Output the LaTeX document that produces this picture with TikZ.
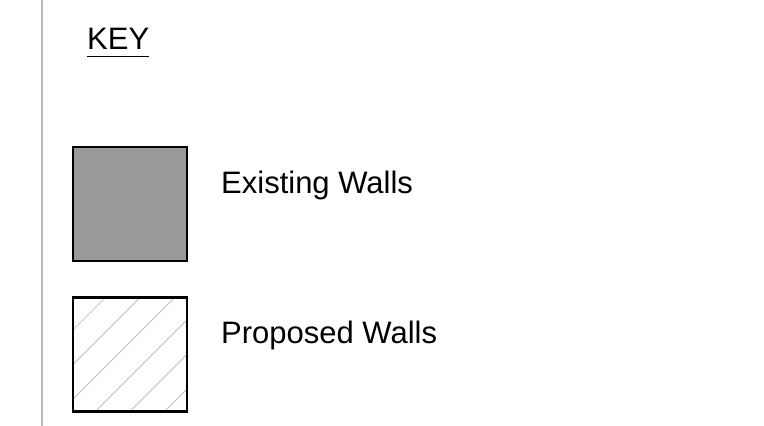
\documentclass[tikz,border=0pt]{standalone}
\usepackage{fontspec}
\setmainfont{Liberation Sans}
\tikzset{
    wallbox/.style={draw=black, line width=2.5pt, minimum width=114pt, minimum height=114pt, inner sep=0pt, outer sep=0pt},
    keytext/.style={anchor=base west, inner sep=0pt, font=\fontsize{31}{37}\selectfont},
}
\begin{document}
\begin{tikzpicture}[x=1pt, y=-1pt]
    \useasboundingbox (0, 0) rectangle (764, 426);

    % margin line
    \draw[line width=2pt, black!27] (42, 0) -- (42, 426);

    % heading
    \node[keytext] (key) at (87, 49.5) {KEY};
    \draw[line width=1.5pt] ([yshift=-7pt]key.base west) -- ([yshift=-7pt]key.base east);

    % existing walls
    \node[wallbox, fill=black!40] (existingbox) at (130, 204) {};
    \node[keytext] (existing) at (221, 193.3) {Existing Walls};

    % proposed walls
    \node[wallbox] (proposedbox) at (130, 354.5) {};
    \begin{scope}
        \clip (proposedbox.south west) rectangle (proposedbox.north east);
        \foreach \c in {368.4, 403, 437.6, 472.2, 506.8, 541.4, 576} {
            \draw[line width=0.7pt, black!30] (\c - 290, 290) -- (\c - 420, 420);
        }
    \end{scope}
    \draw[line width=2.5pt] (proposedbox.south west) rectangle (proposedbox.north east);
    \node[keytext] (proposed) at (221, 343.3) {Proposed Walls};
\end{tikzpicture}
\end{document}
